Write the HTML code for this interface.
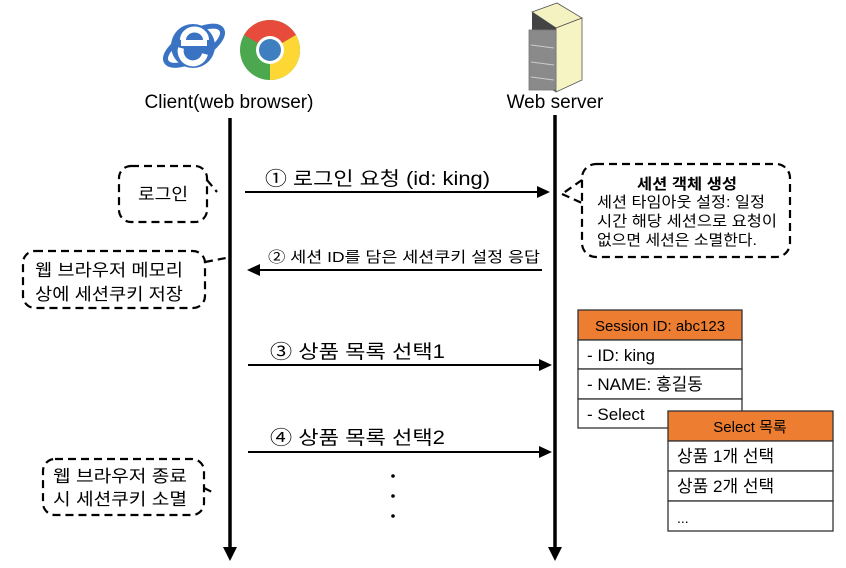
<!DOCTYPE html>
<html><head><meta charset="utf-8"><style>
html,body{margin:0;padding:0;background:#fff;}
svg{display:block;font-family:"Liberation Sans","Noto Sans CJK KR",sans-serif;}
</style></head><body>
<svg width="846" height="568" viewBox="0 0 846 568" xmlns="http://www.w3.org/2000/svg">
<!-- IE icon -->
<g transform="translate(193,44)">
<ellipse cx="0" cy="2" rx="32" ry="13" transform="rotate(-30)" fill="none" stroke="#3a73c4" stroke-width="5"/>
<circle cx="0" cy="2" r="22" fill="#3a73c4"/>
<rect x="-12" y="-4" width="26" height="6" fill="#fff"/>
<path d="M-10,-4 A11,10 0 0 1 13,-4" fill="none" stroke="#fff" stroke-width="6"/>
<path d="M-12,4 A12,12 0 0 0 12,10" fill="none" stroke="#fff" stroke-width="6"/>
</g>
<!-- Chrome icon -->
<g transform="translate(270,50)">
<circle r="30" fill="#4ba84e"/>
<path d="M0,0 L-26,-15 A30,30 0 0 1 26,-15 Z" fill="#e74b3c"/>
<path d="M0,0 L26,-15 A30,30 0 0 1 0,30 Z" fill="#fdd835"/>
<circle r="14" fill="#fff"/>
<circle r="11" fill="#3f7fbf"/>
</g>
<!-- Server icon -->
<g>
<polygon points="532,12 557,3 582,18 556,28" fill="#f4f2c0" stroke="#555" stroke-width="0.8"/>
<polygon points="556,28 582,18 582,80 556,92" fill="#f7f4c4" stroke="#555" stroke-width="0.8"/>
<polygon points="532,12 556,28 556,92 532,80" fill="#444"/>
<rect x="529" y="30" width="27" height="60" fill="#8a8a8a" stroke="#777" stroke-width="0.8"/>
<line x1="531" y1="45" x2="554" y2="48" stroke="#ccc"/>
<line x1="531" y1="62" x2="554" y2="65" stroke="#ccc"/>
<line x1="531" y1="77" x2="554" y2="80" stroke="#ccc"/>
</g>
<text x="229" y="108" font-size="19" text-anchor="middle" fill="#000">Client(web browser)</text>
<text x="555" y="108" font-size="19" text-anchor="middle" fill="#000">Web server</text>
<!-- lifelines -->
<line x1="230" y1="118" x2="230" y2="548" stroke="#000" stroke-width="3.5"/>
<polygon points="223,547 237,547 230,561" fill="#000"/>
<line x1="555" y1="115" x2="555" y2="548" stroke="#000" stroke-width="3.5"/>
<polygon points="548,547 562,547 555,561" fill="#000"/>
<!-- arrows -->
<g stroke="#000" stroke-width="2">
<line x1="245" y1="192" x2="538" y2="192"/>
<line x1="258" y1="270" x2="542" y2="270"/>
<line x1="248" y1="365" x2="540" y2="365"/>
<line x1="248" y1="452" x2="540" y2="452"/>
</g>
<polygon points="537,186 550,192 537,198" fill="#000"/>
<polygon points="260,264 247,270 260,276" fill="#000"/>
<polygon points="539,359 552,365 539,371" fill="#000"/>
<polygon points="539,446 552,452 539,458" fill="#000"/>
<text x="265" y="185" font-size="19" textLength="225" lengthAdjust="spacingAndGlyphs">① 로그인 요청 (id: king)</text>
<text x="268" y="262" font-size="15" textLength="272" lengthAdjust="spacingAndGlyphs">② 세션 ID를 담은 세션쿠키 설정 응답</text>
<text x="270" y="358" font-size="19" textLength="175" lengthAdjust="spacingAndGlyphs">③ 상품 목록 선택1</text>
<text x="270" y="444" font-size="19" textLength="175" lengthAdjust="spacingAndGlyphs">④ 상품 목록 선택2</text>
<g fill="#000"><circle cx="393" cy="476" r="1.8"/><circle cx="393" cy="496" r="1.8"/><circle cx="393" cy="516" r="1.8"/></g>
<!-- dashed callouts -->
<g fill="none" stroke="#000" stroke-width="2.2" stroke-dasharray="8,5">
<rect x="119" y="166" width="88" height="56" rx="12"/>
<line x1="207" y1="180" x2="217" y2="192"/>
<rect x="23" y="251" width="182" height="57" rx="12"/>
<line x1="205" y1="262" x2="226" y2="258"/>
<rect x="43" y="459" width="161" height="56" rx="12"/>
<line x1="204" y1="488" x2="214" y2="493"/>
<rect x="582" y="164" width="208" height="93" rx="14"/>
<line x1="582" y1="180" x2="562" y2="194"/>
<line x1="562" y1="194" x2="582" y2="203"/>
</g>
<text x="138" y="200" font-size="17" textLength="50" lengthAdjust="spacingAndGlyphs">로그인</text>
<text x="35" y="276" font-size="17" textLength="148" lengthAdjust="spacingAndGlyphs">웹 브라우저 메모리</text>
<text x="35" y="300" font-size="17" textLength="148" lengthAdjust="spacingAndGlyphs">상에 세션쿠키 저장</text>
<text x="53" y="482" font-size="17" textLength="134" lengthAdjust="spacingAndGlyphs">웹 브라우저 종료</text>
<text x="53" y="505" font-size="17" textLength="134" lengthAdjust="spacingAndGlyphs">시 세션쿠키 소멸</text>
<text x="637" y="189" font-size="15" font-weight="bold" textLength="100" lengthAdjust="spacingAndGlyphs">세션 객체 생성</text>
<text x="597" y="207" font-size="15" textLength="168" lengthAdjust="spacingAndGlyphs">세션 타임아웃 설정: 일정</text>
<text x="597" y="226" font-size="15" textLength="180" lengthAdjust="spacingAndGlyphs">시간 해당 세션으로 요청이</text>
<text x="597" y="245" font-size="15" textLength="160" lengthAdjust="spacingAndGlyphs">없으면 세션은 소멸한다.</text>
<!-- session table -->
<g stroke="#333" stroke-width="1.3">
<rect x="578" y="310" width="164" height="30" fill="#ed7d31"/>
<rect x="578" y="340" width="164" height="29" fill="#fff"/>
<rect x="578" y="369" width="164" height="30" fill="#fff"/>
<rect x="578" y="399" width="164" height="29" fill="#fff"/>
</g>
<text x="660" y="331" font-size="15" text-anchor="middle">Session ID: abc123</text>
<text x="587" y="361" font-size="17">- ID: king</text>
<text x="587" y="390" font-size="17">- NAME: 홍길동</text>
<text x="587" y="420" font-size="17">- Select</text>
<g stroke="#333" stroke-width="1.3">
<rect x="668" y="411" width="165" height="30" fill="#ed7d31"/>
<rect x="668" y="441" width="165" height="30" fill="#fff"/>
<rect x="668" y="471" width="165" height="30" fill="#fff"/>
<rect x="668" y="501" width="165" height="30" fill="#fff"/>
</g>
<text x="750" y="432" font-size="15" text-anchor="middle">Select 목록</text>
<text x="677" y="462" font-size="17">상품 1개 선택</text>
<text x="677" y="492" font-size="17">상품 2개 선택</text>
<text x="677" y="523" font-size="14">...</text>
</svg>
</body></html>
